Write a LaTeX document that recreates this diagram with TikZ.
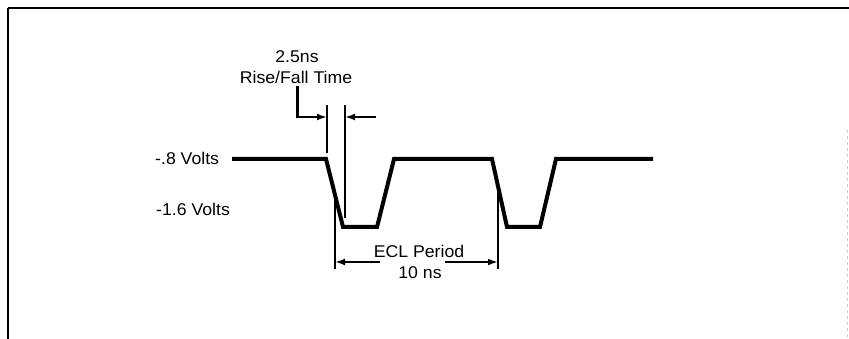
\documentclass[tikz,border=0pt]{standalone}
\usepackage{fontspec}
\setmainfont{Liberation Sans}[FakeStretch=1.04]
\usetikzlibrary{arrows.meta}
\tikzset{
  lbl/.style={inner sep=0pt, font=\fontsize{17}{19}\selectfont, text height=12pt, text depth=0pt},
  wave/.style={line width=4pt, line join=miter},
  leader/.style={line width=3pt},
  dim/.style={line width=2.6pt, -{Latex[length=10pt,width=7pt]}},
  tickline/.style={line width=1.4pt},
  frameline/.style={line width=1.6pt}
}
\begin{document}
\begin{tikzpicture}[x=1pt,y=-1pt]
\useasboundingbox (0,0) rectangle (849,339);
% frame
\draw[frameline] (8,8) -- (849,8);
\draw[frameline] (8,8) -- (8,339);
\draw[gray!40, line width=1pt, dashed] (847,130) -- (847,339);
% labels
\node[lbl] (t1) at (297,57) {2.5ns};
\node[lbl] (t2) at (296,78) {Rise/Fall Time};
\node[lbl, anchor=west] (hi) at (155,159) {-.8 Volts};
\node[lbl, anchor=west] (lo) at (156,210) {-1.6 Volts};
\node[lbl] (ecl) at (419,252) {ECL Period};
\node[lbl] (ten) at (420,273) {10 ns};
% waveform
\coordinate (w0) at (232,159);
\coordinate (f1a) at (326,159);
\coordinate (f1b) at (343,227);
\coordinate (r1a) at (377,227);
\coordinate (r1b) at (394,159);
\coordinate (f2a) at (492,159);
\coordinate (f2b) at (507,227);
\coordinate (r2a) at (540,227);
\coordinate (r2b) at (556,159);
\coordinate (w1) at (653,159);
\draw[wave] (w0) -- (f1a) -- (f1b) -- (r1a) -- (r1b) -- (f2a) -- (f2b) -- (r2a) -- (r2b) -- (w1);
% rise/fall time markers
\coordinate (m1t) at (327,105);
\coordinate (m1b) at (327,153);
\coordinate (m2t) at (345,105);
\coordinate (m2b) at (345,218);
\draw[tickline] (m1t) -- (m1b);
\draw[tickline] (m2t) -- (m2b);
\coordinate (l1) at (297,88);
\coordinate (l2) at (297,117);
\coordinate (a1) at (327,117);
\coordinate (l3) at (376,117);
\coordinate (a2) at (345,117);
\draw[leader, line cap=rect] (l1) -- (l2);
\draw[dim] (l2) -- (a1);
\draw[dim] (l3) -- (a2);
% period markers
\coordinate (p1t) at (335,198);
\coordinate (p1b) at (335,269);
\coordinate (p2t) at (498,188);
\coordinate (p2b) at (498,269);
\draw[tickline] (p1t) -- (p1b);
\draw[tickline] (p2t) -- (p2b);
\coordinate (d1) at (380,262);
\coordinate (d1e) at (335,262);
\coordinate (d2) at (445,262);
\coordinate (d2e) at (498,262);
\draw[dim] (d1) -- (d1e);
\draw[dim] (d2) -- (d2e);
\end{tikzpicture}
\end{document}
